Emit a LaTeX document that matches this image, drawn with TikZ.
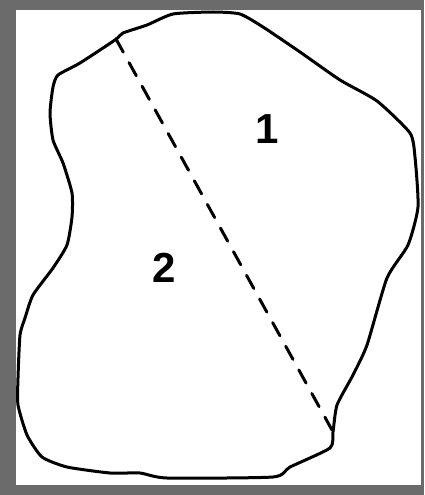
\documentclass[tikz,border=0pt]{standalone}
\usepackage{fontspec}
\setmainfont{Liberation Sans}
\definecolor{framegray}{HTML}{6B6B6B}
\begin{document}
\begin{tikzpicture}[x=1pt,y=-1pt,
  outline/.style={line width=3pt,line join=round,line cap=round},
  cut/.style={line width=3pt,dash pattern=on 15pt off 12pt,line cap=round},
  lbl/.style={font=\fontsize{42}{42}\selectfont\bfseries,inner sep=0pt}]
\fill[framegray] (0,0) rectangle (424,495);
\fill[white] (16,10) rectangle (421,485);
\useasboundingbox (0,0) rectangle (424,495);
\draw[outline] plot[smooth cycle,tension=0.35] coordinates {
(213,12) (240,14) (263,27) (300,52) (340,80) (377,101) (410,133) (415,157)
(418,207) (408,245) (387,278) (367,345) (353,375) (337,405) (333,432) (330,448)
(290,467) (273,477) (167,478) (140,473) (110,473) (67,467) (42,457) (27,435)
(18,405) (18,378) (20,335) (25,318) (33,295) (53,268) (67,245) (72,217)
(72,193) (63,163) (53,140) (50,113) (53,87) (58,75) (80,63) (115,40)
(123,33) (147,25) (173,14)};
\coordinate (cutA) at (116,39);
\coordinate (cutB) at (332,430);
\draw[cut] (cutA) -- (cutB);
\node[lbl] (n1) at (267,129) {1};
\node[lbl] (n2) at (164,268) {2};
\end{tikzpicture}
\end{document}
